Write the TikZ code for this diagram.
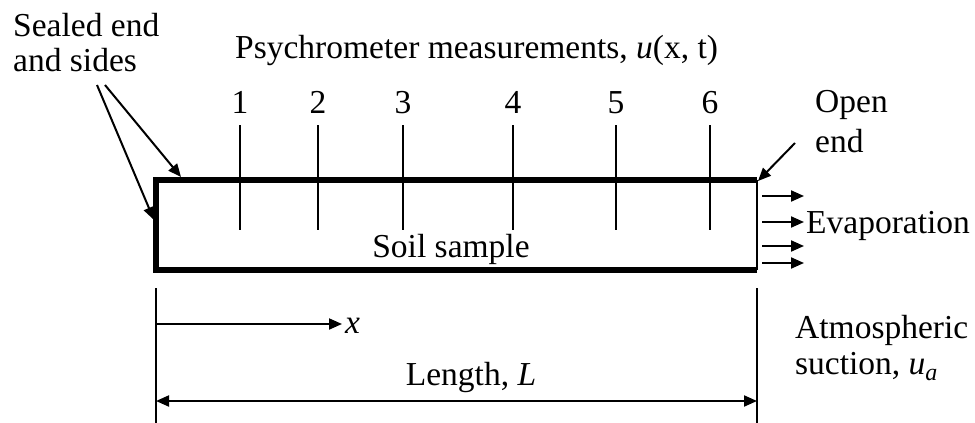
\documentclass[tikz,border=0pt]{standalone}
\usepackage{fontspec}
\setmainfont{Liberation Serif}
\usetikzlibrary{arrows.meta}
\begin{document}
\begin{tikzpicture}[x=1pt,y=-1pt,
  txt/.style={inner sep=0pt,font=\fontsize{33.5}{38}\selectfont},
  thin/.style={line width=2pt},
  thick/.style={line width=5.5pt},
  arr/.style={line width=2pt,-{Triangle[length=13pt,width=11pt]}},
  darr/.style={line width=2pt,{Triangle[length=13pt,width=11pt]}-{Triangle[length=13pt,width=11pt]}}]
\useasboundingbox (0,0) rectangle (975,423);
% texts
\node[inner sep=0pt,font=\fontsize{33.5}{35}\selectfont,align=left,anchor=north west] (sealed) at (13,13) {Sealed end\\and sides};
\node[txt,anchor=base west] (psy) at (235,58) {Psychrometer measurements, \textit{u}(x, t)};
\node[inner sep=0pt,font=\fontsize{33.5}{40}\selectfont,align=left,anchor=north west] (open) at (815,90) {Open\\end};
\node[txt,anchor=base west] (evap) at (806,233) {Evaporation};
\node[txt,anchor=base] (soil) at (451,257) {Soil sample};
\node[txt,anchor=base west] (xl) at (345,333) {\textit{x}};
\node[txt,anchor=base] (len) at (471,385) {Length, \textit{L}};
\node[inner sep=0pt,font=\fontsize{33.5}{36}\selectfont,align=left,anchor=north west] (atm) at (795,315) {Atmospheric\\suction, \textit{u}\raisebox{-6pt}{\fontsize{24}{26}\selectfont\textit{a}}};
% probes
\foreach \i/\px in {1/240,2/318,3/403,4/513,5/616,6/710}{
  \node[txt,anchor=base] (n\i) at (\px,113) {\i};
  \coordinate (pt\i) at (\px,125);
  \coordinate (pb\i) at (\px,230);
  \draw[thin] (pt\i) -- (pb\i);
}
% box
\coordinate (bl) at (156,270);
\coordinate (tl) at (156,180);
\coordinate (tr) at (757,180);
\coordinate (br) at (757,270);
\draw[thick,line join=miter] (br) -- (bl) -- (tl) -- (tr);
\draw[thin] (tr) -- (br);
% sealed arrows
\coordinate (s1a) at (97,85);
\coordinate (s1b) at (154,220);
\coordinate (s2a) at (105,85);
\coordinate (s2b) at (181,177);
\draw[arr] (s1a) -- (s1b);
\draw[arr] (s2a) -- (s2b);
% open end arrow
\coordinate (oa) at (795,143);
\coordinate (ob) at (758,181);
\draw[arr] (oa) -- (ob);
% evaporation arrows
\foreach \k/\yy in {1/196,2/222,3/246,4/263}{
  \coordinate (ea\k) at (762,\yy);
  \coordinate (eb\k) at (804,\yy);
  \draw[arr] (ea\k) -- (eb\k);
}
% dimension lines
\coordinate (dl1) at (156,288);
\coordinate (dl2) at (156,423);
\coordinate (dr1) at (757,288);
\coordinate (dr2) at (757,423);
\draw[thin] (dl1) -- (dl2);
\draw[thin] (dr1) -- (dr2);
\coordinate (xa) at (156,324);
\coordinate (xb) at (342,324);
\draw[arr] (xa) -- (xb);
\coordinate (la) at (156,401);
\coordinate (lb) at (757,401);
\draw[darr] (la) -- (lb);
\end{tikzpicture}
\end{document}
